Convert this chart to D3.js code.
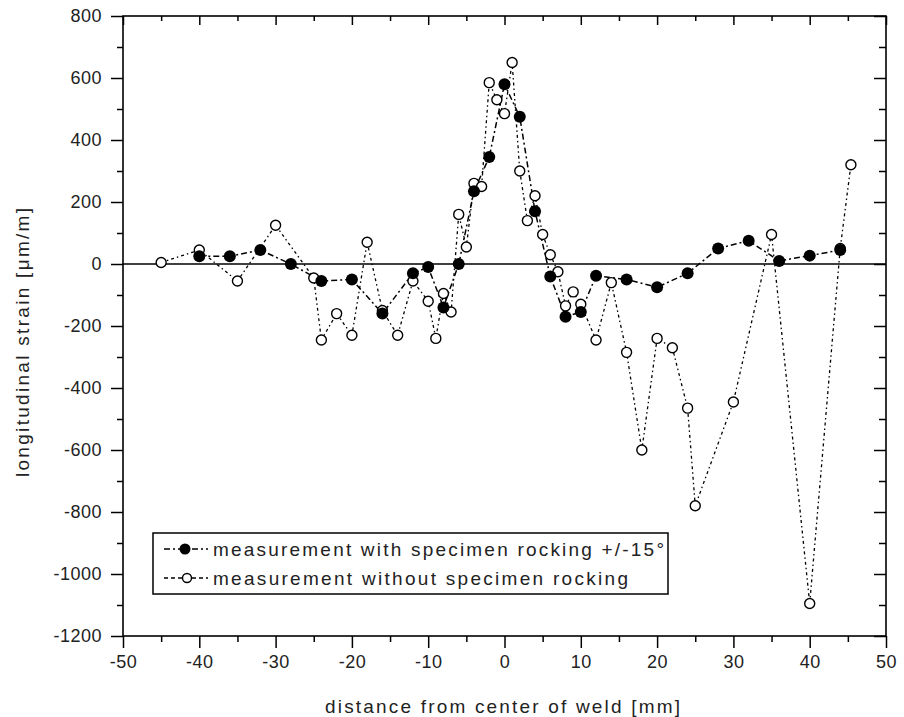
<!DOCTYPE html>
<html lang="en">
  <head>
    <meta charset="utf-8">
    <title>longitudinal strain</title>
    <script src="https://d3js.org/d3.v7.min.js"></script>
    <style type="text/css">
      body { margin: 0; background: #fff; }
      text { font-family: "Liberation Sans", Arial, sans-serif; fill: #222; }
    </style>
  </head>
  <body>
    <div id="chart1"></div>
    <script type="text/javascript">
      // measurement with specimen rocking +/-15 deg (filled)
      var xRock = [-40, -36, -32, -28, -24, -20, -16, -12, -10, -8, -6, -4, -2, 0, 2, 4, 6, 8, 10, 12, 16, 20, 24, 28, 32, 36, 40, 44];
      var yRock = [25, 25, 45, 0, -55, -50, -160, -30, -10, -140, 0, 235, 345, 580, 475, 170, -40, -170, -155, -38, -50, -75, -30, 50, 75, 10, 27, 45];

      // measurement without specimen rocking (open)
      var xFree = [-45, -40, -35, -30, -25, -24, -22, -20, -18, -16, -14, -12, -10, -9, -8, -7, -6, -5, -4, -3, -2, -1, 0, 1, 2, 3, 4, 5, 6, 7, 8, 9, 10, 12, 14, 16, 18, 20, 22, 24, 25, 30, 35, 40, 44, 45.4];
      var yFree = [5, 45, -55, 125, -45, -245, -160, -230, 70, -150, -230, -55, -120, -240, -95, -155, 160, 55, 260, 250, 585, 530, 485, 650, 300, 140, 220, 95, 30, -25, -135, -90, -130, -245, -60, -285, -600, -240, -270, -465, -780, -445, 95, -1095, 50, 320];

      var xTicks = [-50, -40, -30, -20, -10, 0, 10, 20, 30, 40, 50];
      var yTicks = [-1200, -1000, -800, -600, -400, -200, 0, 200, 400, 600, 800];
      var legendLabels = ["measurement with specimen rocking +/-15\u00b0", "measurement without specimen rocking"];

      var W = 904, H = 717;
      var mLeft = 123, mRight = 886, mTop = 16, mBottom = 636;

      var svg = d3.select("#chart1").append("svg").attr("width", W).attr("height", H);

      var x = d3.scaleLinear().domain([-50, 50]).range([mLeft, mRight]);
      var y = d3.scaleLinear().domain([-1200, 800]).range([mBottom, mTop]);

      var xMinor = d3.range(-45, 50, 10);
      var yMinor = d3.range(-1100, 800, 200);
      var fmt = function (d) { return String(d); };

      function styleAxis(g) {
        g.select(".domain").remove();
        g.selectAll("line").attr("stroke", "#000").attr("stroke-width", 1.5);
        g.selectAll("text").style("font-size", "18px").style("letter-spacing", "0.5px").attr("fill", "#222");
      }

      // bottom
      svg.append("g").attr("transform", "translate(0," + mBottom + ")")
        .call(d3.axisBottom(x).tickValues(xTicks).tickSize(12).tickPadding(7).tickFormat(fmt))
        .call(styleAxis);
      svg.append("g").attr("transform", "translate(0," + mBottom + ")")
        .call(d3.axisBottom(x).tickValues(xMinor).tickSize(6).tickFormat(""))
        .call(styleAxis);
      // top
      svg.append("g").attr("transform", "translate(0," + mTop + ")")
        .call(d3.axisTop(x).tickValues(xTicks).tickSize(-9).tickFormat(""))
        .call(styleAxis);
      svg.append("g").attr("transform", "translate(0," + mTop + ")")
        .call(d3.axisTop(x).tickValues(xMinor).tickSize(-5).tickFormat(""))
        .call(styleAxis);
      // left
      svg.append("g").attr("transform", "translate(" + mLeft + ",0)")
        .call(d3.axisLeft(y).tickValues(yTicks).tickSize(12).tickPadding(9).tickFormat(fmt))
        .call(styleAxis);
      svg.append("g").attr("transform", "translate(" + mLeft + ",0)")
        .call(d3.axisLeft(y).tickValues(yMinor).tickSize(6).tickFormat(""))
        .call(styleAxis);
      // right
      svg.append("g").attr("transform", "translate(" + mRight + ",0)")
        .call(d3.axisRight(y).tickValues(yTicks).tickSize(-12).tickFormat(""))
        .call(styleAxis);
      svg.append("g").attr("transform", "translate(" + mRight + ",0)")
        .call(d3.axisRight(y).tickValues(yMinor).tickSize(-7).tickFormat(""))
        .call(styleAxis);

      // frame
      svg.append("rect").attr("x", mLeft).attr("y", mTop)
        .attr("width", mRight - mLeft).attr("height", mBottom - mTop)
        .attr("fill", "none").attr("stroke", "#000").attr("stroke-width", 1.6);

      // zero line
      svg.append("line").attr("x1", mLeft).attr("x2", mRight)
        .attr("y1", y(0)).attr("y2", y(0))
        .attr("stroke", "#000").attr("stroke-width", 1.6);

      var rock = xRock.map(function (d, i) { return [d, yRock[i]]; });
      var free = xFree.map(function (d, i) { return [d, yFree[i]]; });

      var line = d3.line().x(function (d) { return x(d[0]); }).y(function (d) { return y(d[1]); });

      svg.append("path").datum(free).attr("d", line)
        .attr("fill", "none").attr("stroke", "#000").attr("stroke-width", 1.3)
        .attr("stroke-dasharray", "3,3,1.5,3");
      svg.append("path").datum(rock).attr("d", line)
        .attr("fill", "none").attr("stroke", "#000").attr("stroke-width", 1.5)
        .attr("stroke-dasharray", "6,3,2,3");

      svg.selectAll(".free").data(free).enter().append("circle")
        .attr("cx", function (d) { return x(d[0]); })
        .attr("cy", function (d) { return y(d[1]); })
        .attr("r", 5).attr("fill", "#fff").attr("stroke", "#000").attr("stroke-width", 1.4);
      svg.selectAll(".rock").data(rock).enter().append("circle")
        .attr("cx", function (d) { return x(d[0]); })
        .attr("cy", function (d) { return y(d[1]); })
        .attr("r", 6).attr("fill", "#000");

      // legend
      var lg = svg.append("g");
      lg.append("rect").attr("x", 153).attr("y", 533).attr("width", 515).attr("height", 61)
        .attr("fill", "#fff").attr("stroke", "#000").attr("stroke-width", 1.5);
      var rows = [549, 578];
      lg.append("line").attr("x1", 164).attr("x2", 208).attr("y1", rows[0]).attr("y2", rows[0])
        .attr("stroke", "#000").attr("stroke-width", 1.5).attr("stroke-dasharray", "6,3,2,3");
      lg.append("circle").attr("cx", 185).attr("cy", rows[0]).attr("r", 5.5).attr("fill", "#000");
      lg.append("line").attr("x1", 164).attr("x2", 208).attr("y1", rows[1]).attr("y2", rows[1])
        .attr("stroke", "#000").attr("stroke-width", 1.3).attr("stroke-dasharray", "4,3");
      lg.append("circle").attr("cx", 187).attr("cy", rows[1]).attr("r", 4.5)
        .attr("fill", "#fff").attr("stroke", "#000").attr("stroke-width", 1.4);
      var legendLen = [451, 415];
      legendLabels.forEach(function (t, i) {
        lg.append("text").attr("x", 213).attr("y", rows[i]).attr("dy", "0.35em")
          .style("font-size", "19px").attr("textLength", legendLen[i]).attr("lengthAdjust", "spacing")
          .text(t);
      });

      // axis titles
      svg.append("text").attr("x", 325).attr("y", 713)
        .style("font-size", "19px").attr("textLength", 355).attr("lengthAdjust", "spacing")
        .text("distance from center of weld [mm]");
      svg.append("text").attr("transform", "translate(29,477) rotate(-90)")
        .style("font-size", "19px").attr("textLength", 269).attr("lengthAdjust", "spacing")
        .text("longitudinal strain [\u03bcm/m]");
    </script>
  </body>
</html>
